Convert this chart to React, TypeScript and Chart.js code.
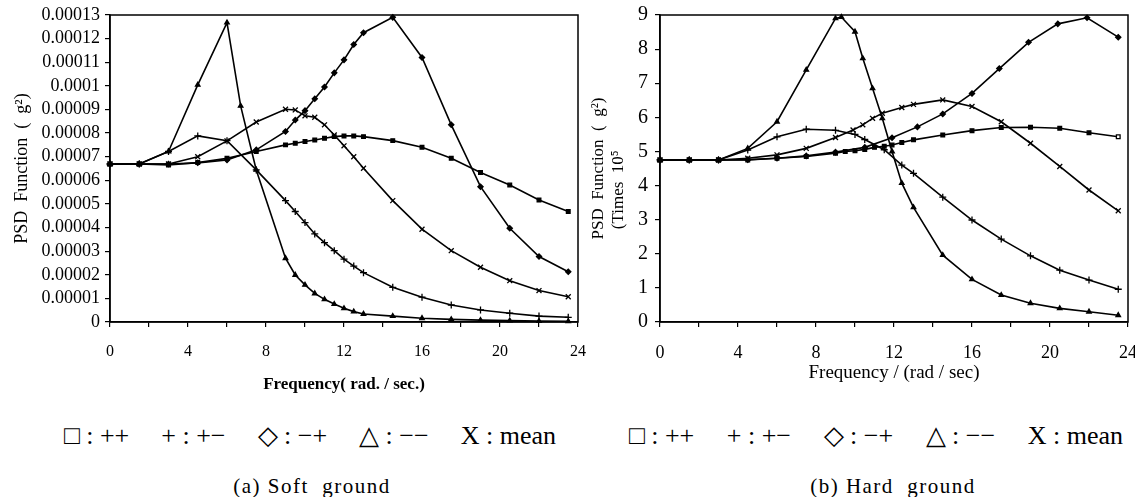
import React, { useEffect, useRef } from 'react';
import { Chart, registerables } from 'chart.js';

Chart.register(...registerables);

const FONT = '"Liberation Serif", "Times New Roman", serif';

// ---------- axes ----------
const xTickValues = [0, 2, 4, 6, 8, 10, 12, 14, 16, 18, 20, 22, 24];
const xTickLabels = ['0', '', '4', '', '8', '', '12', '', '16', '', '20', '', '24'];

// soft ground PSD in units of 1e-5 g^2
const softYTickValues = [0, 1, 2, 3, 4, 5, 6, 7, 8, 9, 10, 11, 12, 13];
const softYTickLabels = [
  '0', '0.00001', '0.00002', '0.00003', '0.00004', '0.00005', '0.00006',
  '0.00007', '0.00008', '0.00009', '0.0001', '0.00011', '0.00012', '0.00013',
];
const hardYTickValues = [0, 1, 2, 3, 4, 5, 6, 7, 8, 9];
const hardYTickLabels = ['0', '1', '2', '3', '4', '5', '6', '7', '8', '9'];

// ---------- (a) soft ground (values x 1e-5 g^2) ----------
const softSquareX = [0, 1.5, 3, 4.5, 6, 7.5, 9, 9.5, 10, 10.5, 11, 11.5, 12, 12.5, 13, 14.5, 16, 17.5, 19, 20.5, 22, 23.5];
const softSquareY = [6.69, 6.69, 6.65, 6.75, 6.93, 7.22, 7.5, 7.57, 7.64, 7.71, 7.78, 7.85, 7.88, 7.88, 7.85, 7.68, 7.4, 6.93, 6.33, 5.8, 5.17, 4.68];

const softPlusX = [0, 1.5, 3, 4.5, 6, 7.5, 9, 9.5, 10, 10.5, 11, 11.5, 12, 12.5, 13, 14.5, 16, 17.5, 19, 20.5, 22, 23.5];
const softPlusY = [6.69, 6.69, 7.22, 7.88, 7.68, 6.44, 5.14, 4.68, 4.21, 3.73, 3.36, 3.02, 2.66, 2.37, 2.09, 1.47, 1.05, 0.72, 0.51, 0.37, 0.25, 0.2];

const softDiamondX = [0, 1.5, 3, 4.5, 6, 7.5, 9, 9.5, 10, 10.5, 11, 11.5, 12, 12.5, 13, 14.5, 16, 17.5, 19, 20.5, 22, 23.5];
const softDiamondY = [6.69, 6.69, 6.69, 6.74, 6.86, 7.29, 8.07, 8.55, 8.95, 9.45, 9.95, 10.55, 11.1, 11.75, 12.25, 12.9, 11.2, 8.35, 5.73, 3.97, 2.77, 2.13];

const softTriangleX = [0, 1.5, 3, 4.5, 6, 6.7, 7.5, 9, 9.5, 10, 10.5, 11, 11.5, 12, 12.5, 13, 14.5, 16, 17.5, 19, 20.5, 22, 23.5];
const softTriangleY = [6.69, 6.69, 7.22, 10.04, 12.68, 9.15, 6.44, 2.7, 1.99, 1.57, 1.21, 0.96, 0.76, 0.58, 0.44, 0.34, 0.25, 0.16, 0.11, 0.08, 0.06, 0.04, 0.03];

const softMeanX = [0, 1.5, 3, 4.5, 6, 7.5, 9, 9.5, 10, 10.5, 11, 11.5, 12, 12.5, 13, 14.5, 16, 17.5, 19, 20.5, 22, 23.5];
const softMeanY = [6.69, 6.69, 6.69, 7.0, 7.67, 8.47, 9.01, 8.98, 8.73, 8.67, 8.35, 7.92, 7.46, 7.0, 6.51, 5.14, 3.93, 3.02, 2.32, 1.75, 1.33, 1.07];

// ---------- (b) hard ground (values x 1e-5) ----------
const hardSquareX = [0, 1.5, 3, 4.5, 6, 7.5, 9, 9.5, 10, 10.5, 11, 11.5, 11.9, 12.4, 13, 14.5, 16, 17.5, 19, 20.5, 22, 23.5];
const hardSquareY = [4.75, 4.75, 4.75, 4.75, 4.8, 4.85, 4.95, 5.0, 5.02, 5.06, 5.12, 5.15, 5.19, 5.26, 5.34, 5.48, 5.61, 5.7, 5.71, 5.68, 5.55, 5.43];

const hardPlusX = [0, 1.5, 3, 4.5, 6, 7.5, 9, 10, 10.5, 11.5, 12.4, 13, 14.5, 16, 17.5, 19, 20.5, 22, 23.5];
const hardPlusY = [4.75, 4.75, 4.75, 5.04, 5.43, 5.65, 5.62, 5.5, 5.35, 5.05, 4.6, 4.36, 3.66, 2.99, 2.43, 1.94, 1.52, 1.23, 0.96];

const hardDiamondX = [0, 1.5, 3, 4.5, 6, 7.5, 9, 10.5, 11.9, 13.2, 14.5, 16, 17.4, 18.9, 20.4, 21.9, 23.5];
const hardDiamondY = [4.75, 4.75, 4.75, 4.76, 4.8, 4.87, 4.98, 5.12, 5.4, 5.72, 6.1, 6.7, 7.43, 8.2, 8.74, 8.92, 8.35];

const hardTriangleX = [0, 1.5, 3, 4.5, 6, 7.5, 9, 9.3, 10, 10.4, 10.9, 11.4, 11.9, 12.4, 13, 14.5, 16, 17.5, 19, 20.5, 22, 23.5];
const hardTriangleY = [4.75, 4.75, 4.75, 5.09, 5.87, 7.39, 8.9, 8.94, 8.51, 7.73, 6.85, 5.97, 5.0, 4.07, 3.36, 1.96, 1.25, 0.79, 0.55, 0.4, 0.3, 0.2];

const hardMeanX = [0, 1.5, 3, 4.5, 6, 7.5, 9, 9.9, 10.4, 10.9, 11.4, 12.4, 13, 14.5, 16, 17.5, 19, 20.5, 22, 23.5];
const hardMeanY = [4.75, 4.75, 4.75, 4.8, 4.9, 5.09, 5.41, 5.63, 5.78, 5.97, 6.12, 6.29, 6.38, 6.51, 6.32, 5.87, 5.24, 4.56, 3.87, 3.26];

const legendGroups = ['□ : ++', '+ : +−', '◇ : −+', '△ : −−', 'X : mean'];

function makeDataset(label: string, xs: number[], ys: number[], pointStyle: any, hollowLast = false) {
  const isCross = pointStyle === 'cross' || pointStyle === 'crossRot';
  return {
    label,
    data: xs.map((x, i) => ({ x, y: ys[i] })),
    borderColor: '#000',
    backgroundColor: '#000',
    pointBackgroundColor: xs.map((_, i) => (hollowLast && i === xs.length - 1 ? '#fff' : '#000')),
    pointBorderColor: '#000',
    pointStyle,
    pointRadius: isCross ? 3.5 : 2.6,
    pointBorderWidth: 1.3,
    borderWidth: 1.6,
    tension: 0,
    fill: false,
    clip: 6,
  };
}

const framePlugin = {
  id: 'frame',
  afterDraw(chart: any) {
    const { ctx, chartArea: a } = chart;
    ctx.save();
    ctx.strokeStyle = '#000';
    ctx.lineWidth = 1.5;
    ctx.strokeRect(a.left, a.top, a.right - a.left, a.bottom - a.top);
    ctx.restore();
  },
};

type PanelCfg = {
  datasets: any[];
  yTickValues: number[];
  yTickLabels: string[];
  yMax: number;
  yTitle: string | string[];
  yTitlePad: number;
  yTitleSize: number;
  yTickSize: number;
  yTickPad: number;
  yAxisWidth: number;
  xTitle: string;
  xTitleSize: number;
  xTitleBold: boolean;
  xTitlePadBottom: number;
  xTickSize: number;
  padRight: number;
};

function Panel({ left, width, height, cfg }: { left: number; width: number; height: number; cfg: PanelCfg }) {
  const ref = useRef<HTMLCanvasElement | null>(null);
  useEffect(() => {
    if (!ref.current) return;
    const chart = new Chart(ref.current, {
      type: 'line',
      data: { datasets: cfg.datasets },
      plugins: [framePlugin],
      options: {
        animation: false,
        responsive: false,
        maintainAspectRatio: false,
        layout: { padding: { left: 0, right: cfg.padRight, top: 15, bottom: 3 } },
        plugins: { legend: { display: false }, tooltip: { enabled: false } },
        scales: {
          x: {
            type: 'linear',
            min: 0,
            max: 24,
            afterBuildTicks: (s: any) => {
              s.ticks = xTickValues.map((v) => ({ value: v }));
            },
            afterFit: (s: any) => {
              s.height = 75;
              s.paddingLeft = 0;
              s.paddingRight = 0;
            },
            ticks: {
              autoSkip: false,
              maxRotation: 0,
              padding: 15,
              color: '#000',
              font: { family: FONT, size: cfg.xTickSize },
              callback: (_v: any, i: number) => xTickLabels[i],
            },
            grid: { display: true, drawOnChartArea: false, drawTicks: true, tickLength: 5, color: '#000', lineWidth: 1.2 },
            border: { display: true, color: '#000', width: 1.5 },
            title: {
              display: true,
              text: cfg.xTitle,
              color: '#000',
              font: { family: FONT, size: cfg.xTitleSize, weight: cfg.xTitleBold ? 'bold' : 'normal' },
              padding: { top: 0, bottom: cfg.xTitlePadBottom },
            },
          },
          y: {
            type: 'linear',
            min: 0,
            max: cfg.yMax,
            afterBuildTicks: (s: any) => {
              s.ticks = cfg.yTickValues.map((v) => ({ value: v }));
            },
            afterFit: (s: any) => {
              s.width = cfg.yAxisWidth;
              s.paddingTop = 0;
              s.paddingBottom = 0;
            },
            ticks: {
              autoSkip: false,
              padding: cfg.yTickPad,
              color: '#000',
              font: { family: FONT, size: cfg.yTickSize },
              callback: (_v: any, i: number) => cfg.yTickLabels[i],
            },
            grid: { display: true, drawOnChartArea: false, drawTicks: true, tickLength: 5, color: '#000', lineWidth: 1.2 },
            border: { display: true, color: '#000', width: 1.5 },
            title: {
              display: true,
              text: cfg.yTitle,
              color: '#000',
              font: { family: FONT, size: cfg.yTitleSize },
              padding: { top: cfg.yTitlePad, bottom: 0 },
            },
          },
        },
      } as any,
    });
    return () => chart.destroy();
  }, []);
  return (
    <canvas
      ref={ref}
      width={width}
      height={height}
      style={{ position: 'absolute', left, top: 0, width, height }}
    />
  );
}

function Legend({ left, width }: { left: number; width: number }) {
  return (
    <div
      style={{
        position: 'absolute',
        left,
        top: 420,
        width,
        display: 'flex',
        justifyContent: 'space-between',
        fontFamily: FONT,
        fontSize: 26,
        lineHeight: '32px',
        whiteSpace: 'pre',
        wordSpacing: 0,
        color: '#000',
      }}
    >
      {legendGroups.map((g, i) => (
        <span key={i}>{g}</span>
      ))}
    </div>
  );
}

function Caption({ center, text }: { center: number; text: string }) {
  return (
    <div
      style={{
        position: 'absolute',
        left: center - 150,
        top: 473,
        width: 300,
        textAlign: 'center',
        fontFamily: FONT,
        fontSize: 21,
        lineHeight: '26px',
        letterSpacing: 1.5,
        whiteSpace: 'pre',
        color: '#000',
      }}
    >
      {text}
    </div>
  );
}

export default function App() {
  const softCfg: PanelCfg = {
    datasets: [
      makeDataset('□ : ++', softSquareX, softSquareY, 'rect'),
      makeDataset('+ : +−', softPlusX, softPlusY, 'cross'),
      makeDataset('◇ : −+', softDiamondX, softDiamondY, 'rectRot'),
      makeDataset('△ : −−', softTriangleX, softTriangleY, 'triangle'),
      makeDataset('X : mean', softMeanX, softMeanY, 'crossRot'),
    ],
    yTickValues: softYTickValues,
    yTickLabels: softYTickLabels,
    yMax: 13,
    yTitle: 'PSD  Function  (  g²)',
    yTitlePad: 11,
    yTitleSize: 18,
    yTickSize: 18,
    yTickPad: 5,
    yAxisWidth: 110,
    xTitle: 'Frequency( rad. / sec.)',
    xTitleSize: 17,
    xTitleBold: true,
    xTitlePadBottom: 2,
    xTickSize: 16,
    padRight: 22,
  };
  const hardCfg: PanelCfg = {
    datasets: [
      makeDataset('□ : ++', hardSquareX, hardSquareY, 'rect', true),
      makeDataset('+ : +−', hardPlusX, hardPlusY, 'cross'),
      makeDataset('◇ : −+', hardDiamondX, hardDiamondY, 'rectRot'),
      makeDataset('△ : −−', hardTriangleX, hardTriangleY, 'triangle'),
      makeDataset('X : mean', hardMeanX, hardMeanY, 'crossRot'),
    ],
    yTickValues: hardYTickValues,
    yTickLabels: hardYTickLabels,
    yMax: 9,
    yTitle: ['PSD  Function  (  g²)', '(Times  10⁵          '],
    yTitlePad: 23,
    yTitleSize: 17,
    yTickSize: 20,
    yTickPad: 7,
    yAxisWidth: 95,
    xTitle: 'Frequency / (rad / sec)',
    xTitleSize: 19,
    xTitleBold: false,
    xTitlePadBottom: 13,
    xTickSize: 18,
    padRight: 7,
  };
  return (
    <div style={{ position: 'absolute', left: 0, top: 0, width: 1135, height: 497, background: '#fff', overflow: 'hidden' }}>
      <Panel left={0} width={600} height={400} cfg={softCfg} />
      <Panel left={565} width={570} height={400} cfg={hardCfg} />
      <Legend left={64} width={492} />
      <Legend left={629} width={494} />
      <Caption center={312} text="(a) Soft  ground" />
      <Caption center={893} text="(b) Hard  ground" />
    </div>
  );
}
